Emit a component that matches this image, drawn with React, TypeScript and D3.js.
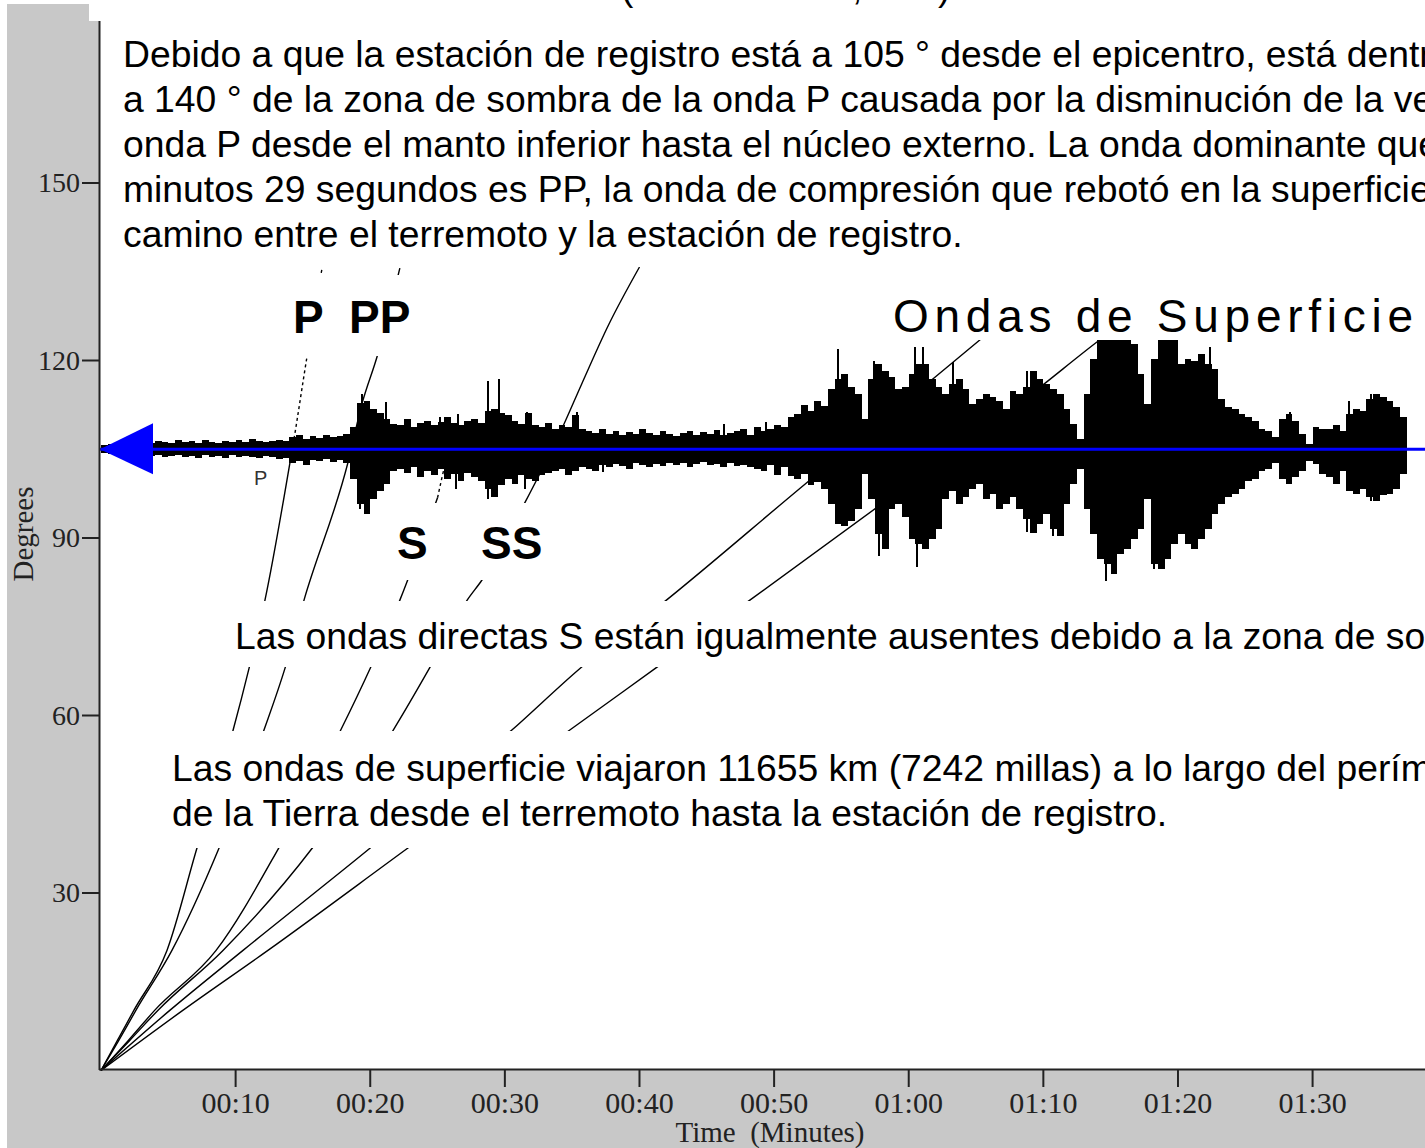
import * as d3 from "d3";

// axis ticks
const timeTicks = [10, 20, 30, 40, 50, 60, 70, 80, 90];
const timeTickLabels = ["00:10", "00:20", "00:30", "00:40", "00:50", "01:00", "01:10", "01:20", "01:30"];
const degreeTicks = [30, 60, 90, 120, 150];

const stationDistance = 105; // degrees from epicentre

// seismogram envelope, one value every half minute from t = 0
const seisStep = 0.5;
const seisUpper = [
  4, 5, 5, 6, 5, 6, 7, 6, 8, 7,
  6, 9, 7, 8, 6, 9, 7, 6, 8, 7,
  9, 7, 10, 8, 7, 8, 9, 8, 12, 14,
  10, 13, 11, 14, 12, 13, 15, 22, 46, 48,
  40, 36, 30, 25, 24, 30, 22, 26, 28, 24,
  27, 32, 26, 24, 28, 30, 26, 38, 40, 36,
  34, 28, 25, 36, 24, 22, 26, 20, 24, 22,
  34, 20, 18, 16, 20, 15, 18, 14, 17, 15,
  20, 16, 14, 18, 15, 13, 16, 18, 14, 17,
  15, 19, 14, 16, 18, 20, 14, 22, 18, 20,
  24, 22, 32, 35, 44, 38, 48, 43, 60, 70,
  75, 62, 55, 30, 70, 85, 78, 72, 60, 62,
  75, 85, 85, 70, 62, 55, 65, 70, 60, 45,
  50, 55, 52, 48, 40, 58, 55, 62, 78, 70,
  65, 60, 55, 40, 25, 10, 55, 90, 115, 118,
  120, 118, 115, 105, 75, 45, 90, 115, 118, 112,
  85, 90, 88, 95, 85, 80, 50, 42, 40, 35,
  32, 28, 20, 18, 12, 30, 35, 28, 15, 5,
  22, 20, 20, 24, 18, 35, 40, 38, 50, 55,
  52, 48, 42, 32, 0,
];
const seisLower = [
  4, 5, 6, 5, 6, 5, 6, 7, 6, 8,
  7, 6, 8, 7, 9, 6, 8, 7, 9, 6,
  8, 7, 8, 9, 7, 8, 10, 9, 14, 12,
  16, 11, 12, 10, 13, 11, 14, 30, 55, 65,
  50, 42, 35, 22, 20, 24, 18, 28, 22, 26,
  20, 30, 25, 32, 24, 28, 32, 40, 48, 36,
  30, 35, 26, 30, 32, 26, 24, 22, 20, 26,
  22, 18, 20, 22, 16, 18, 15, 17, 20, 14,
  16, 18, 15, 17, 14, 16, 14, 18, 15, 13,
  16, 15, 18, 14, 17, 16, 18, 20, 22, 16,
  26, 18, 27, 30, 25, 36, 33, 40, 55, 75,
  77, 72, 60, 25, 50, 85, 100, 60, 55, 68,
  90, 95, 100, 90, 80, 50, 42, 55, 48, 40,
  35, 50, 45, 60, 55, 48, 60, 70, 84, 75,
  65, 80, 87, 55, 35, 20, 60, 85, 110, 115,
  125, 105, 100, 90, 80, 50, 115, 120, 110, 95,
  85, 95, 100, 90, 80, 65, 55, 48, 45, 40,
  32, 30, 22, 20, 14, 30, 35, 28, 22, 12,
  15, 25, 28, 35, 22, 42, 45, 40, 48, 52,
  46, 45, 40, 25, 0,
];

// isolated spikes on the trace: minute, swing up, swing down
const spikeTimes = [19.24, 19.39, 19.76, 21.17, 25.18, 26.37, 26.52, 28.75, 29.56, 31.49, 31.64, 35.36, 37.29, 46.27, 49.39, 54.74, 55.41, 57.42, 57.79, 60.46, 60.61, 61.06, 63.28, 68.78, 70.71, 74.65, 78.21, 82.37, 88.31, 92.7, 94.33];
const spikeUp = [0, 55, 0, 47, 32, 0, 35, 68, 70, 0, 37, 37, 0, 25, 27, 100, 0, 88, 0, 102, 0, 102, 87, 78, 0, 0, 0, 102, 37, 48, 55];
const spikeDown = [60, 0, 63, 0, 0, 40, 0, 50, 0, 40, 0, 0, 23, 0, 0, 0, 77, 0, 107, 0, 118, 0, 0, 83, 87, 132, 120, 0, 0, 0, 52];

// travel-time curves: [minutes, degrees]
const pWave = [[0, 0], [1.2, 5], [2.45, 10.2], [4.9, 20.3], [7.13, 37.6], [9.81, 57.5], [11.0, 68], [12.18, 79.5], [14.04, 102.8]];
const pDiffracted = [[14.04, 102.8], [14.26, 105.7], [15.3, 120.6], [16.42, 135.6]];
const ppWave = [[0, 0], [1.3, 5], [2.6, 10.2], [5.27, 20.3], [8.77, 37.6], [12.1, 57.5], [13.67, 68], [15.08, 79.5], [18.35, 102.8], [19.4, 112.8], [20.5, 120.6], [22.2, 135.6]];
const sWave = [[0, 0], [2.0, 5], [4.0, 10.2], [8.55, 20.3], [13.2, 37.6], [17.8, 57.5], [20.0, 68], [22.2, 79.5], [25.0, 96.8]];
const sDiffracted = [[25.0, 96.8], [25.6, 102.8], [26.0, 106]];
const ssWave = [[0, 0], [2.1, 5], [4.24, 10.2], [9.06, 20.3], [15.7, 37.6], [21.7, 57.5], [24.4, 68], [27.2, 79.5], [28.3, 82.9], [31.4, 95.6], [34.2, 108.3], [35.7, 116], [37.7, 126], [40.0, 135.8]];
const loveWave = [[0, 0], [5.13, 10.2], [10.55, 20.3], [20.0, 37.6], [30.5, 57.5], [35.6, 68], [42.0, 79.5], [52.4, 99.3], [61.7, 116.7], [65.3, 123.5], [72.2, 136]];
const rayleighWave = [[0, 0], [6.1, 10.2], [12.4, 20.3], [22.8, 37.6], [34.8, 57.5], [41.2, 68], [48.2, 79.5], [59.4, 98.1], [69.2, 114.5], [74.2, 123.5], [82.0, 136]];

const introLines = [
  "Debido a que la estación de registro está a 105 ° desde el epicentro, está dentro del rango de 104",
  "a 140 ° de la zona de sombra de la onda P causada por la disminución de la velocidad de la",
  "onda P desde el manto inferior hasta el núcleo externo. La onda dominante que llega a los 19",
  "minutos 29 segundos es PP, la onda de compresión que rebotó en la superficie a mitad de",
  "camino entre el terremoto y la estación de registro.",
];
const directLine = "Las ondas directas S están igualmente ausentes debido a la zona de sombra de la onda S.";
const surfaceLines = [
  "Las ondas de superficie viajaron 11655 km (7242 millas) a lo largo del perímetro",
  "de la Tierra desde el terremoto hasta la estación de registro.",
];

const SANS = "'Liberation Sans', Arial, sans-serif";
const SERIF = "'Liberation Serif', 'Times New Roman', serif";

export default function App() {
  const width = 1425;
  const height = 1148;

  const x = d3.scaleLinear().domain([0, 98.35]).range([101, 1425]);
  const y = d3.scaleLinear().domain([0, 150]).range([1070.5, 183]);
  const amp = d3.scaleLinear().domain([0, 100]).range([0, 100]);
  const base = y(stationDistance);

  const line = d3
    .line<number[]>()
    .x((d) => x(d[0]))
    .y((d) => y(d[1]))
    .curve(d3.curveMonotoneX);

  const seis = seisUpper.map((u, i) => ({ t: i * seisStep, u, l: seisLower[i] }));
  const seisArea = d3
    .area<{ t: number; u: number; l: number }>()
    .x((d) => x(d.t))
    .y0((d) => base + amp(d.l))
    .y1((d) => base - amp(d.u))
    .curve(d3.curveStepAfter);

  const solidCurves = [pWave, ppWave, sWave, ssWave, loveWave, rayleighWave];
  const dashedCurves = [pDiffracted, sDiffracted];

  const axisColor = "#222";
  const boxes = [
    { x: 100, y: 20, w: 1325, h: 247 },
    { x: 878, y: 267, w: 547, h: 73 },
    { x: 285, y: 275, w: 132, h: 81 },
    { x: 390, y: 503, w: 160, h: 77 },
    { x: 225, y: 601, w: 1200, h: 66 },
    { x: 160, y: 731, w: 1265, h: 117 },
  ];

  return (
    <svg
      width={width}
      height={height}
      style={{ position: "absolute", left: 0, top: 0, display: "block", background: "#fff" }}
    >
      <rect x={7} y={4} width={width - 7} height={height - 4} fill="#c8c8c8" />
      <rect x={89} y={0} width={width - 89} height={21} fill="#fff" />
      <rect x={100} y={20} width={width - 100} height={1050} fill="#fff" />

      {/* title, mostly above the picture */}
      <g fontFamily={SANS} fontSize={37} fill="#000">
        <text x={621} y={0}>(</text>
        <text x={852} y={0}>,</text>
        <text x={938} y={0}>)</text>
      </g>

      {/* travel-time curves */}
      <g fill="none" stroke="#000" strokeWidth={1.4}>
        {solidCurves.map((c, i) => (
          <path key={i} d={line(c) || ""} />
        ))}
        {dashedCurves.map((c, i) => (
          <path key={"d" + i} d={line(c) || ""} strokeDasharray="3,3" />
        ))}
      </g>

      {/* seismogram */}
      <path d={seisArea(seis) || ""} fill="#000" shapeRendering="crispEdges" />
      <g fill="#000" shapeRendering="crispEdges">
        {spikeTimes.map((t, i) => (
          <rect
            key={i}
            x={x(t) - 1.25}
            width={2.5}
            y={base - amp(spikeUp[i])}
            height={amp(spikeUp[i]) + amp(spikeDown[i])}
          />
        ))}
      </g>
      <text x={254} y={485} fontFamily={SANS} fontSize={20} fill="#333">P</text>

      {/* station line and arrow */}
      <line x1={100} x2={width} y1={base} y2={base} stroke="#0000ff" strokeWidth={3} />
      <polygon points={`100,${base} 153,${base - 26} 153,${base + 25}`} fill="#0000ff" />

      {/* text boxes */}
      {boxes.map((b, i) => (
        <rect key={i} x={b.x} y={b.y} width={b.w} height={b.h} fill="#fff" />
      ))}

      <g fontFamily={SANS} fontSize={37.3} fill="#000">
        {introLines.map((t, i) => (
          <text key={i} x={123} y={67 + i * 45}>{t}</text>
        ))}
        <text x={235} y={649}>{directLine}</text>
        {surfaceLines.map((t, i) => (
          <text key={i} x={172} y={781 + i * 45}>{t}</text>
        ))}
      </g>

      <text x={893} y={332} fontFamily={SANS} fontSize={46} textLength={520} lengthAdjust="spacing" fill="#000">
        Ondas de Superficie
      </text>

      <g fontFamily={SANS} fontSize={46} fontWeight="bold" fill="#000">
        <text x={293} y={333}>P</text>
        <text x={349} y={333}>PP</text>
        <text x={397} y={559}>S</text>
        <text x={481} y={559}>SS</text>
      </g>

      {/* axes */}
      <line x1={99.5} x2={99.5} y1={21} y2={1070} stroke={axisColor} strokeWidth={2} />
      <line x1={99} x2={width} y1={1069.5} y2={1069.5} stroke={axisColor} strokeWidth={2} />
      {degreeTicks.map((d) => (
        <g key={d}>
          <line x1={82} x2={99} y1={y(d)} y2={y(d)} stroke={axisColor} strokeWidth={2} />
          <text x={80} y={y(d) + 9} textAnchor="end" fontFamily={SERIF} fontSize={28} fill="#222">
            {d}
          </text>
        </g>
      ))}
      {timeTicks.map((t, i) => (
        <g key={t}>
          <line x1={x(t)} x2={x(t)} y1={1070} y2={1087} stroke={axisColor} strokeWidth={2} />
          <text x={x(t)} y={1113} textAnchor="middle" fontFamily={SERIF} fontSize={30} fill="#222">
            {timeTickLabels[i]}
          </text>
        </g>
      ))}
      <text
        transform="translate(33,534) rotate(-90)"
        textAnchor="middle"
        fontFamily={SERIF}
        fontSize={29}
        fill="#222"
      >
        Degrees
      </text>
      <text x={770} y={1142} textAnchor="middle" fontFamily={SERIF} fontSize={29} fill="#222" style={{ whiteSpace: "pre" }}>
        {"Time  (Minutes)"}
      </text>
    </svg>
  );
}
